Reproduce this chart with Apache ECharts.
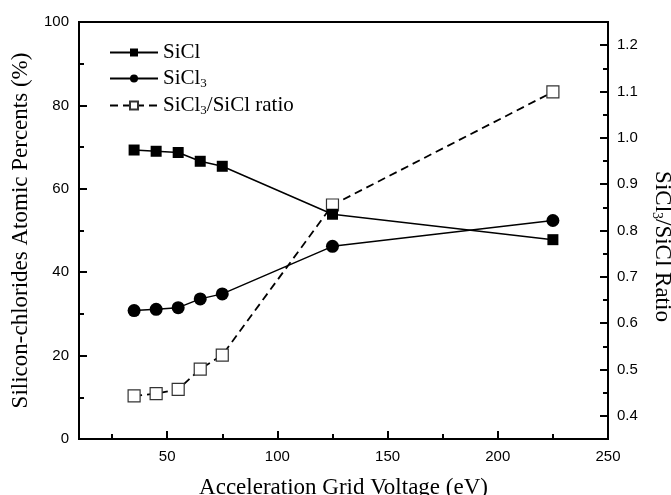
<!DOCTYPE html>
<html>
<head>
<meta charset="utf-8">
<script src="https://cdn.jsdelivr.net/npm/echarts@6/dist/echarts.min.js"></script>
<style>
  html, body { margin: 0; padding: 0; background: #fff; }
  #chart { width: 671px; height: 495px; }
</style>
</head>
<body>
<div id="chart"></div>
<script>
// grid voltage (eV)
const voltage = [35, 45, 55, 65, 75, 125, 225]
// atomic percents (%)
const sicl = [69.3, 69.0, 68.7, 66.6, 65.4, 53.9, 47.8]
const sicl3 = [30.8, 31.1, 31.5, 33.6, 34.8, 46.2, 52.4]
// SiCl3/SiCl ratio
const ratio = [0.443, 0.448, 0.457, 0.501, 0.531, 0.855, 1.099]

const xMajor = [50, 100, 150, 200, 250]
const xMinor = [25, 75, 125, 175, 225]
const rMajor = [0.4, 0.5, 0.6, 0.7, 0.8, 0.9, 1.0, 1.1, 1.2]
const rMinor = [0.45, 0.55, 0.65, 0.75, 0.85, 0.95, 1.05, 1.15]

const pair = (xs, ys) => xs.map((x, i) => [x, ys[i]])

const serif = 'Liberation Serif'
const sans = 'Liberation Sans'
const subRich = {
  n: { fontFamily: serif, fontSize: 21, color: '#000' },
  s: { fontFamily: serif, fontSize: 13, color: '#000', padding: [10, 0, 0, 0] }
}
const titleRich = {
  n: { fontFamily: serif, fontSize: 23, color: '#000' },
  s: { fontFamily: serif, fontSize: 14, color: '#000', padding: [11, 0, 0, 0] }
}

const chart = echarts.init(document.getElementById('chart'))

const tickLabel = { fontFamily: sans, fontSize: 15, color: '#000' }
const axisLine = { show: true, lineStyle: { color: '#000', width: 2 } }

chart.setOption({
  animation: false,
  backgroundColor: '#fff',
  grid: {
    left: 79, right: 63, top: 22, bottom: 56,
    outerBoundsMode: 'none',
    show: true, borderColor: '#000', borderWidth: 2
  },
  legend: {
    orient: 'vertical',
    left: 104,
    top: 37,
    itemWidth: 48,
    itemHeight: 10,
    itemGap: 5,
    data: ['SiCl', 'SiCl3', 'ratio'],
    formatter: name => {
      if (name === 'SiCl') return '{n|SiCl}'
      if (name === 'SiCl3') return '{n|SiCl}{s|3}'
      return '{n|SiCl}{s|3}{n|/SiCl ratio}'
    },
    textStyle: { rich: subRich }
  },
  xAxis: [
    {
      type: 'value', min: 10, max: 250,
      name: 'Acceleration Grid Voltage (eV)',
      nameLocation: 'middle', nameGap: 37,
      nameTextStyle: { fontFamily: serif, fontSize: 23, color: '#000' },
      axisLine: axisLine,
      axisTick: { inside: true, length: 8, customValues: xMajor, lineStyle: { color: '#000', width: 2 } },
      axisLabel: { customValues: xMajor, margin: 10, ...tickLabel },
      splitLine: { show: false }
    },
    {
      // minor ticks
      type: 'value', min: 10, max: 250, position: 'bottom',
      axisLine: { show: false },
      axisTick: { inside: true, length: 5, customValues: xMinor, lineStyle: { color: '#000', width: 2 } },
      axisLabel: { show: false },
      splitLine: { show: false }
    }
  ],
  yAxis: [
    {
      type: 'value', min: 0, max: 100, interval: 20,
      name: 'Silicon-chlorides Atomic Percents (%)',
      nameLocation: 'middle', nameGap: 47,
      nameTextStyle: { fontFamily: serif, fontSize: 23, color: '#000' },
      axisLine: axisLine,
      axisTick: { inside: true, length: 8, lineStyle: { color: '#000', width: 2 } },
      minorTick: { show: true, splitNumber: 2, length: 5, lineStyle: { color: '#000', width: 2 } },
      axisLabel: { margin: 10, ...tickLabel },
      splitLine: { show: false }
    },
    {
      type: 'value', min: 0.35, max: 1.25, position: 'right',
      name: '{n|SiCl}{s|3}{n|/SiCl Ratio}',
      nameLocation: 'middle', nameGap: 42, nameRotate: -90,
      nameTextStyle: { rich: titleRich, padding: [0, 0, 0, 32] },
      axisLine: axisLine,
      axisTick: { inside: true, length: 8, customValues: rMajor, lineStyle: { color: '#000', width: 2 } },
      axisLabel: { customValues: rMajor, margin: 9, formatter: v => v.toFixed(1), ...tickLabel },
      splitLine: { show: false }
    },
    {
      // minor ticks on ratio axis
      type: 'value', min: 0.35, max: 1.25, position: 'right',
      axisLine: { show: false },
      axisTick: { inside: true, length: 5, customValues: rMinor, lineStyle: { color: '#000', width: 2 } },
      axisLabel: { show: false },
      splitLine: { show: false }
    }
  ],
  series: [
    {
      name: 'SiCl', type: 'line', z: 3,
      data: pair(voltage, sicl),
      symbol: 'rect', symbolSize: 11,
      itemStyle: { color: '#000' },
      lineStyle: { color: '#000', width: 1.5 }
    },
    {
      name: 'SiCl3', type: 'line', z: 3,
      data: pair(voltage, sicl3),
      symbol: 'circle', symbolSize: 13,
      itemStyle: { color: '#000' },
      lineStyle: { color: '#000', width: 1.5 }
    },
    {
      name: 'ratio', type: 'line', z: 2, yAxisIndex: 1,
      data: pair(voltage, ratio),
      symbol: 'rect', symbolSize: 12,
      itemStyle: { color: '#fff', borderColor: '#333', borderWidth: 1.2 },
      lineStyle: { color: '#000', width: 1.8, type: [8, 5] }
    }
  ]
})
</script>
</body>
</html>
